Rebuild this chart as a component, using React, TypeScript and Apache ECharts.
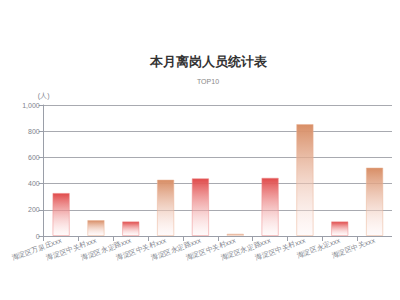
import React, { useEffect, useRef } from "react";
import * as echarts from "echarts";

const categories = [
  "海淀区万泉庄xxx",
  "海淀区中关村xxx",
  "海淀区永定路xxx",
  "海淀区中关村xxx",
  "海淀区永定路xxx",
  "海淀区中关村xxx",
  "海淀区永定路xxx",
  "海淀区中关村xxx",
  "海淀区永定xxx",
  "海淀区中关xxx",
];
const values = [329, 122, 112, 431, 441, 18, 445, 855, 112, 523];

const redTop = "#e04a4a";
const orangeTop = "#d88e66";

function grad(c: string) {
  return new echarts.graphic.LinearGradient(0, 0, 0, 1, [
    { offset: 0, color: c },
    { offset: 1, color: "rgba(255,240,240,0.3)" },
  ]);
}

export default function App() {
  const ref = useRef<HTMLDivElement>(null);
  useEffect(() => {
    const chart = echarts.init(ref.current!, null, { renderer: "svg" });
    chart.setOption({
      animation: false,
      title: {
        text: "本月离岗人员统计表",
        subtext: "TOP10",
        left: "center",
        top: 42,
        itemGap: 10,
        textStyle: { fontSize: 13, fontWeight: "bold", color: "#333" },
        subtextStyle: { fontSize: 7, color: "#888" },
      },
      grid: { left: 31, right: 16, top: 97, bottom: 72 },
      xAxis: {
        type: "category",
        data: categories,
        axisLine: { lineStyle: { color: "#9a9ea8" } },
        axisTick: { show: true, lineStyle: { color: "#9a9ea8" } },
        axisLabel: { rotate: 20, fontSize: 7, color: "#80838c", margin: 4, interval: 0 },
      },
      yAxis: {
        type: "value",
        name: "(人)",
        nameGap: 6,
        nameTextStyle: { fontSize: 7, color: "#80838c", align: "center" },
        min: 0,
        max: 1000,
        interval: 200,
        axisLine: { show: true, lineStyle: { color: "#9a9ea8" } },
        axisTick: { show: true, lineStyle: { color: "#9a9ea8" } },
        axisLabel: { fontSize: 7, color: "#80838c", margin: 4 },
        splitLine: { lineStyle: { color: "#a8aab0" } },
      },
      series: [
        {
          type: "bar",
          barWidth: "50%",
          data: values.map((v, i) => ({
            value: v,
            itemStyle: {
              color: grad(i % 2 === 0 ? redTop : orangeTop),
              borderColor: i % 2 === 0 ? "rgba(240,140,140,0.5)" : "rgba(235,180,150,0.5)",
              borderWidth: 1,
            },
          })),
        },
      ],
    });
    return () => chart.dispose();
  }, []);
  return <div ref={ref} style={{ width: 400, height: 300 }} />;
}
